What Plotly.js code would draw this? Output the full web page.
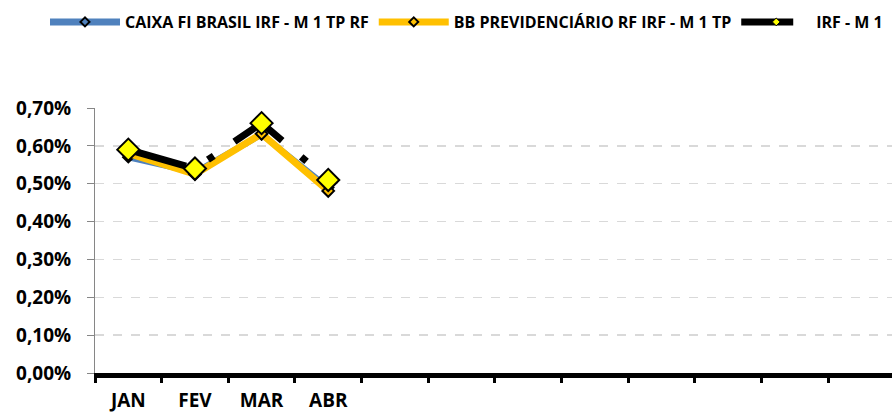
<!DOCTYPE html>
<html>
<head>
<meta charset="utf-8">
<script src="https://cdn.plot.ly/plotly-3.0.1.min.js"></script>
<style>html,body{margin:0;padding:0;background:#fff;}#chart{width:892px;height:415px;}</style>
</head>
<body>
<div id="chart"></div>
<script>
var months = ['JAN','FEV','MAR','ABR','MAI','JUN','JUL','AGO','SET','OUT','NOV','DEZ'];
var monthLabels = ['JAN','FEV','MAR','ABR','','','','','','','',''];
var caixaName = 'CAIXA FI BRASIL IRF - M 1 TP RF';
var bbName = 'BB PREVIDENCIÁRIO RF IRF - M 1 TP';
var irfName = 'IRF - M 1';
var caixaValues = [0.0057, 0.0053, 0.0063, 0.0049];
var bbValues = [0.0058, 0.00525, 0.00632, 0.00481];
var irfValues = [0.0059, 0.0054, 0.0066, 0.0051];

var font = 'Open Sans, sans-serif';
var n = caixaValues.length;
var xs = months.slice(0, n);

var styles = [
  {name: caixaName, y: caixaValues,
   line: {color: '#4F81BD', width: 6},
   marker: {symbol: 'diamond', size: 8, color: '#4F81BD', line: {color: '#000', width: 2}},
   legendMarker: {symbol: 'diamond', size: 7, color: '#4F81BD', line: {color: '#000', width: 2}}},
  {name: bbName, y: bbValues,
   line: {color: '#FFC000', width: 7},
   marker: {symbol: 'diamond', size: 9, color: '#FFC000', line: {color: '#000', width: 2}},
   legendMarker: {symbol: 'diamond', size: 7, color: '#FFC000', line: {color: '#000', width: 2}}},
  {name: irfName, y: irfValues,
   line: {color: '#000000', width: 7, dash: '60px,25px,7px,25px'},
   marker: {symbol: 'diamond', size: 17, color: '#FFFF00', line: {color: '#000', width: 2}},
   legendMarker: {symbol: 'diamond', size: 6, color: '#FFFF00', line: {color: '#000', width: 1}}}
];

var traces = [];
styles.forEach(function (s) {
  traces.push({x: xs, y: s.y, name: s.name, type: 'scatter', mode: 'lines+markers',
    line: s.line, marker: s.marker, showlegend: false});
});
// legend entries (same styles, smaller marker as in the original legend)
styles.forEach(function (s) {
  traces.push({x: [null], y: [null], name: s.name, type: 'scatter', mode: 'lines+markers',
    line: {color: s.line.color, width: 7, dash: s.line.dash ? '52px,40px' : 'solid'},
    marker: s.legendMarker, showlegend: true, hoverinfo: 'skip'});
});

var layout = {
  width: 892, height: 415,
  margin: {l: 95, r: 0, t: 108, b: 42},
  paper_bgcolor: '#fff', plot_bgcolor: '#fff',
  separators: ',.',
  showlegend: true,
  legend: {orientation: 'h', x: -50 / 797, xanchor: 'left',
           y: 1 + 86 / 265, yanchor: 'middle',
           font: {family: font, size: 16, color: '#000', weight: 'bold'}, itemwidth: 70,
           traceorder: 'normal', bgcolor: 'rgba(0,0,0,0)'},
  xaxis: {type: 'category', categoryorder: 'array', categoryarray: months,
          tickvals: months, ticktext: monthLabels,
          range: [-0.5, 11.46], tickson: 'boundaries',
          showline: true, linecolor: '#000', linewidth: 5,
          ticks: 'outside', ticklen: 5, tickwidth: 3, tickcolor: '#000',
          showgrid: false, zeroline: false,
          tickfont: {family: font, size: 19, color: '#000', weight: 'bold'},
          ticklabelstandoff: 6},
  yaxis: {range: [0, 0.007], tickvals: [0,0.001,0.002,0.003,0.004,0.005,0.006,0.007],
          tickformat: '.2%',
          showline: true, linecolor: '#868686', linewidth: 1,
          ticks: 'outside', ticklen: 7, tickcolor: '#868686',
          showgrid: true, gridcolor: '#D9D9D9', gridwidth: 1.5, griddash: 'dash',
          zeroline: false,
          tickfont: {family: font, size: 19, color: '#000', weight: 'bold'},
          ticklabelstandoff: 12}
};

Plotly.newPlot('chart', traces, layout, {displayModeBar: false, staticPlot: true});
</script>
</body>
</html>
